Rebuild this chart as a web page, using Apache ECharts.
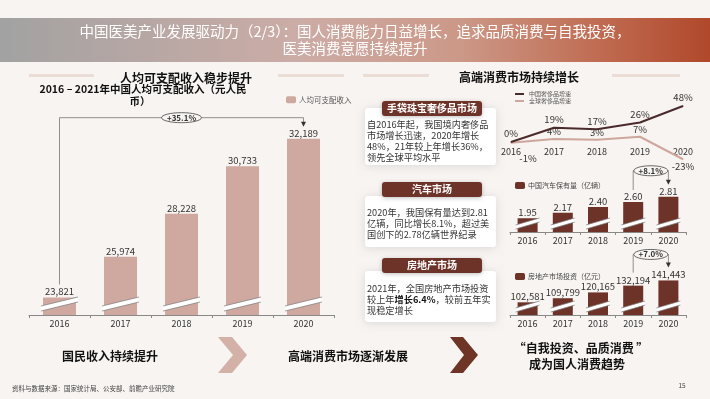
<!DOCTYPE html>
<html style="height: 100%">
<head>
<meta charset="utf-8">
<script src="https://cdn.jsdelivr.net/npm/echarts@6/dist/echarts.min.js"></script>
</head>
<body style="height: 100%; margin: 0; background: #f8f4f2">
<div id="container" style="width: 710px; height: 399px"></div>
<script type="text/javascript">
// 数据
var years = ['2016', '2017', '2018', '2019', '2020'];
var incomeValues = [23821, 25974, 28228, 30733, 32189];
var chinaLuxuryGrowth = [0, 19, 17, 26, 48];
var globalLuxuryGrowth = [-1, 4, 3, 7, -23];
var carValues = [1.95, 2.17, 2.40, 2.60, 2.81];
var estateValues = [102581, 109799, 120165, 132194, 141443];
var incomeChange = '+35.1%';
var carChange = '+8.1%';
var estateChange = '+7.0%';

var FONT = '"Noto Sans CJK SC", "Noto Sans", sans-serif';
var BG = '#f8f4f2';
var PINK = '#cfa99f';
var BROWN = '#6d3328';

var myChart = echarts.init(document.getElementById('container'));

function fmt(v) {
    return v.toLocaleString('en-US');
}

// 断轴标记
function breakSeries(idx, bw, rise, gap, lift) {
    return {
        type: 'custom',
        xAxisIndex: idx,
        yAxisIndex: idx,
        silent: true,
        z: 5,
        data: years.map(function (y, i) { return [i]; }),
        renderItem: function (params, api) {
            var x = api.coord([api.value(0), 0])[0];
            var b = params.coordSys.y + params.coordSys.height;
            var l = x - bw / 2 - 2, r = x + bw / 2 + 2;
            var p1 = [[l, b - lift], [r, b - lift - rise]];
            var p2 = [[l, b - lift - gap], [r, b - lift - rise - gap]];
            return {
                type: 'group',
                children: [
                    { type: 'polygon', shape: { points: [p1[0], p1[1], p2[1], p2[0]] }, style: { fill: '#fff' } },
                    { type: 'line', shape: { x1: p1[0][0], y1: p1[0][1], x2: p1[1][0], y2: p1[1][1] }, style: { stroke: '#777', lineWidth: 0.7 } },
                    { type: 'line', shape: { x1: p2[0][0], y1: p2[0][1], x2: p2[1][0], y2: p2[1][1] }, style: { stroke: '#777', lineWidth: 0.7 } }
                ]
            };
        }
    };
}

function catAxis(idx) {
    return {
        type: 'category',
        gridIndex: idx,
        data: years,
        axisLine: { lineStyle: { color: '#888', width: 1 } },
        axisTick: { show: true, length: 3, lineStyle: { color: '#888' } },
        axisLabel: { color: '#333', fontSize: 9, margin: 4, fontFamily: FONT }
    };
}

var labelTop = { show: true, position: 'top', distance: 1, color: '#333', fontSize: 9.5, fontFamily: FONT };

var option = {
    backgroundColor: BG,
    animation: false,
    textStyle: { fontFamily: FONT },
    legend: [
        { data: ['人均可支配收入'], left: 281, top: 91, itemWidth: 10, itemHeight: 7, itemGap: 0,
          textStyle: { fontSize: 7.5, color: '#555', fontFamily: FONT, padding: [0, 0, 0, -2] } },
        { data: ['中国奢侈品增速', '全球奢侈品增速'], orient: 'vertical', left: 510, top: 86, itemWidth: 9, itemHeight: 2, itemGap: 1,
          icon: 'rect', textStyle: { fontSize: 6, color: '#555', fontFamily: FONT } },
        { data: ['中国汽车保有量（亿辆）'], left: 510, top: 177, itemWidth: 10, itemHeight: 7,
          textStyle: { fontSize: 7, color: '#444', fontFamily: FONT, padding: [0, 0, 0, -2] } },
        { data: ['房地产市场投资（亿元）'], left: 510, top: 268, itemWidth: 10, itemHeight: 7,
          textStyle: { fontSize: 7, color: '#444', fontFamily: FONT, padding: [0, 0, 0, -2] } }
    ],
    grid: [
        { left: 29, width: 305, top: 110, height: 205 },
        { left: 511, width: 172, top: 104.5, height: 60 },
        { left: 510, width: 176, top: 192, height: 40 },
        { left: 510, width: 176, top: 270, height: 45 }
    ],
    xAxis: [
        catAxis(0),
        {
            type: 'category', gridIndex: 1, data: years, boundaryGap: false,
            axisLine: { show: false, onZero: false }, axisTick: { show: false },
            axisLabel: { color: '#333', fontSize: 9, margin: 5, fontFamily: FONT }
        },
        catAxis(2),
        catAxis(3)
    ],
    yAxis: [
        { type: 'value', gridIndex: 0, min: 22900, max: 33700, show: false },
        { type: 'value', gridIndex: 1, min: -30, max: 50, show: false },
        { type: 'value', gridIndex: 2, min: 1.4, max: 3.0, show: false },
        { type: 'value', gridIndex: 3, min: 80000, max: 160000, show: false }
    ],
    series: [
        {
            name: '人均可支配收入', type: 'bar', xAxisIndex: 0, yAxisIndex: 0,
            data: incomeValues, barWidth: 33, itemStyle: { color: PINK },
            label: Object.assign({}, labelTop, { formatter: function (p) { return fmt(p.value); } })
        },
        breakSeries(0, 33, 9, 5, 4),
        {
            name: '中国奢侈品增速', type: 'line', xAxisIndex: 1, yAxisIndex: 1,
            data: chinaLuxuryGrowth, symbol: 'circle', symbolSize: 1,
            lineStyle: { color: '#4a2b2b', width: 2 }, itemStyle: { color: '#4a2b2b' },
            label: { show: true, position: 'top', distance: 3, color: '#333', fontSize: 9.5, formatter: '{c}%' },
            z: 4
        },
        {
            name: '全球奢侈品增速', type: 'line', xAxisIndex: 1, yAxisIndex: 1,
            data: globalLuxuryGrowth.map(function (v, i) {
                if (i === 0) return { value: v, label: { position: 'bottom', offset: [17, 8] } };
                if (v < 0) return { value: v, label: { position: 'bottom', distance: 2 } };
                return v;
            }),
            symbol: 'circle', symbolSize: 1,
            lineStyle: { color: '#cda69c', width: 2 }, itemStyle: { color: '#cda69c' },
            label: { show: true, position: 'top', distance: 2, color: '#333', fontSize: 9.5, formatter: '{c}%' },
            z: 3
        },
        {
            name: '中国汽车保有量（亿辆）', type: 'bar', xAxisIndex: 2, yAxisIndex: 2,
            data: carValues, barWidth: 20, itemStyle: { color: BROWN },
            label: Object.assign({}, labelTop, { formatter: function (p) { return p.value.toFixed(2); } })
        },
        breakSeries(2, 20, 7, 4, 3),
        {
            name: '房地产市场投资（亿元）', type: 'bar', xAxisIndex: 3, yAxisIndex: 3,
            data: estateValues, barWidth: 20, itemStyle: { color: BROWN },
            label: Object.assign({}, labelTop, { formatter: function (p) { return fmt(p.value); } })
        },
        breakSeries(3, 20, 7, 4, 3)
    ]
};

myChart.setOption(option);

// 折线图的年份标签放到 0% 线上
var zeroY = myChart.convertToPixel({ yAxisIndex: 1 }, 0);
var lineGrid = myChart.getModel().getComponent('grid', 1).coordinateSystem.getRect();
myChart.setOption({ xAxis: [{}, { offset: zeroY - (lineGrid.y + lineGrid.height) }, {}, {}] });

// 增长标注
function annotation(gi, i0, v0, i1, v1, up, leftGap, arrowGap, text, rx) {
    var a = myChart.convertToPixel({ gridIndex: gi }, [i0, v0]);
    var b = myChart.convertToPixel({ gridIndex: gi }, [i1, v1]);
    var y = b[1] - up;
    var tip = b[1] - arrowGap;
    var mid = (a[0] + b[0]) / 2;
    var ls = { stroke: '#777', lineWidth: 0.8 };
    return [
        { type: 'polyline', shape: { points: [[a[0], a[1] - leftGap], [a[0], y], [b[0], y], [b[0], tip - 4]] }, style: ls, z: 10 },
        { type: 'polygon', shape: { points: [[b[0] - 2.5, tip - 5], [b[0] + 2.5, tip - 5], [b[0], tip]] }, style: { fill: '#333' }, z: 10 },
        { type: 'ellipse', shape: { cx: mid, cy: y, rx: rx, ry: 5 }, style: { fill: BG, stroke: '#444', lineWidth: 0.8 }, z: 11 },
        { type: 'text', x: mid, y: y, style: { text: text, fill: '#333', font: 'bold 8px ' + FONT, textAlign: 'center', textVerticalAlign: 'middle' }, z: 12 }
    ];
}

function txt(x, y, s, font, color, align) {
    return { type: 'text', x: x, y: y, z: 20,
        style: { text: s, font: font, fill: color || '#222', textAlign: align || 'center', textVerticalAlign: 'middle' } };
}

function box(tagText, tagY, boxY, boxH, bodyText, bodyY, rich) {
    return [
        { type: 'rect', shape: { x: 365, y: boxY, width: 131, height: boxH, r: 3 },
          style: { fill: '#fff', shadowBlur: 8, shadowColor: 'rgba(0,0,0,0.12)', shadowOffsetY: 1 }, z: 8 },
        { type: 'rect', shape: { x: 382, y: tagY, width: 100, height: 15, r: 3 },
          style: { fill: BROWN, shadowBlur: 4, shadowColor: 'rgba(0,0,0,0.25)', shadowOffsetY: 1 }, z: 9 },
        txt(432, tagY + 7.5, tagText, 'bold 10px ' + FONT, '#fff'),
        { type: 'text', x: 367, y: bodyY, z: 20,
          style: { text: bodyText, font: '9.2px ' + FONT, fill: '#333', lineHeight: 11, textAlign: 'left', textVerticalAlign: 'top', rich: rich || {} } }
    ];
}

var chevron1 = [[218, 337], [232, 337], [247, 355], [232, 373], [218, 373], [233, 355]];
var chevron2 = [[450, 337], [463, 337], [478, 355], [463, 373], [450, 373], [464, 355]];

var g = [
    { type: 'rect', shape: { x: 0, y: 18, width: 710, height: 44 }, z: 1,
      style: { fill: new echarts.graphic.LinearGradient(0, 0, 1, 0, [
          { offset: 0, color: '#a2a2a2' }, { offset: 0.42, color: '#ccaca6' },
          { offset: 0.65, color: '#cc9887' }, { offset: 0.85, color: '#bf6a50' }, { offset: 1, color: '#b0482b' }]) } },
    txt(355, 31, '中国医美产业发展驱动力（2/3）：国人消费能力日益增长，追求品质消费与自我投资，', '14.5px ' + FONT, '#fff'),
    txt(355, 48, '医美消费意愿持续提升', '14.5px ' + FONT, '#fff'),
    { type: 'rect', shape: { x: 29, y: 74, width: 65, height: 3 }, style: { fill: '#ecdcd6' } },
    { type: 'rect', shape: { x: 278, y: 74, width: 66, height: 3 }, style: { fill: '#ecdcd6' } },
    { type: 'rect', shape: { x: 363, y: 74, width: 66, height: 3 }, style: { fill: '#ecdcd6' } },
    { type: 'rect', shape: { x: 612, y: 74, width: 68, height: 3 }, style: { fill: '#ecdcd6' } },
    txt(186, 78, '人均可支配收入稳步提升', 'bold 12px ' + FONT, '#111'),
    txt(519, 77, '高端消费市场持续增长', 'bold 12px ' + FONT, '#111'),
    txt(143, 89, '2016 – 2021年中国人均可支配收入（元人民', 'bold 10.5px ' + FONT, '#111'),
    txt(140, 101, '币）', 'bold 10.5px ' + FONT, '#111'),
    txt(110, 356, '国民收入持续提升', 'bold 12px ' + FONT, '#111'),
    txt(348, 356, '高端消费市场逐渐发展', 'bold 12px ' + FONT, '#111'),
    txt(581, 348, '“自我投资、品质消费 ”', 'bold 12px ' + FONT, '#111'),
    txt(577, 364, '成为国人消费趋势', 'bold 12px ' + FONT, '#111'),
    { type: 'polygon', shape: { points: chevron1 }, style: { fill: '#d4b1a7' } },
    { type: 'polygon', shape: { points: chevron2 }, style: { fill: '#6e3426' } },
    txt(12, 389, '资料与数据来源：国家统计局、公安部、前瞻产业研究院', '6.5px ' + FONT, '#444', 'left'),
    txt(682, 386, '15', '6.5px ' + FONT, '#444')
];

g = g.concat(box('手袋珠宝奢侈品市场', 101, 108, 57,
    '自2016年起，我国境内奢侈品\n市场增长迅速，2020年增长\n48%，21年较上年增长36%，\n领先全球平均水平', 119.5));
g = g.concat(box('汽车市场', 182, 196, 51,
    '2020年，我国保有量达到2.81\n亿辆，同比增长8.1%，超过美\n国创下的2.78亿辆世界纪录', 207.5));
g = g.concat(box('房地产市场', 258, 271, 51,
    '2021年，全国房地产市场投资\n较上年{b|增长6.4%}，较前五年实\n现稳定增长', 283.5,
    { b: { font: 'bold 9.2px ' + FONT, fill: '#111' } }));

var n = years.length - 1;
g = g.concat(annotation(0, 0, incomeValues[0], n, incomeValues[n], 21, 13, 12, incomeChange, 20));
g = g.concat(annotation(2, n - 1, carValues[n - 1], n, carValues[n], 26, 12, 12, carChange, 17));
g = g.concat(annotation(3, n - 1, estateValues[n - 1], n, estateValues[n], 26, 13, 13, estateChange, 17));

myChart.setOption({ graphic: g });
</script>
</body>
</html>
